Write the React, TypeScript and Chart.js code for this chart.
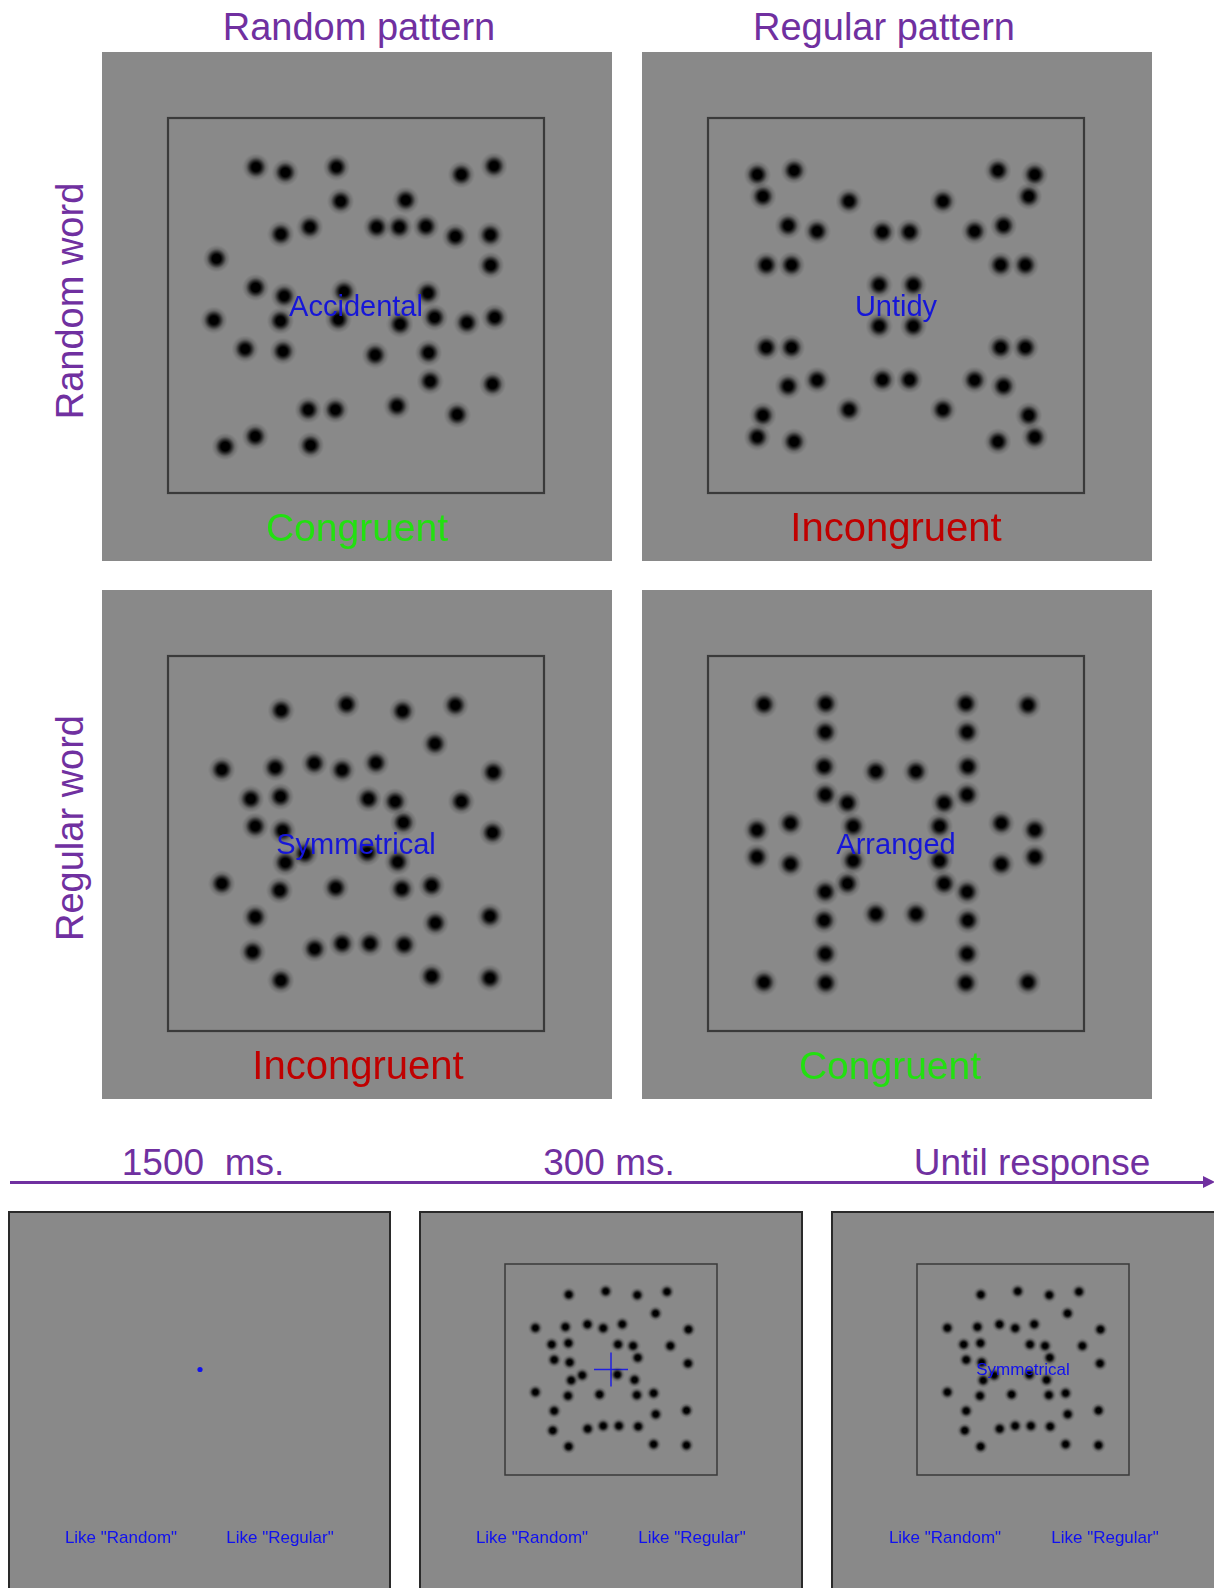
import React, { useEffect, useRef } from "react";
import { Chart, registerables } from "chart.js";

Chart.register(...registerables);

// ---- Data: dot positions, in % of the inner frame (x: left→right, y: top→bottom) ----
// Random pattern shown with the random word "Accidental"
const accidentalX = [23.4, 31.2, 44.8, 78.0, 86.7, 45.9, 63.2, 30.0, 37.7, 55.5, 61.5, 68.6, 76.4, 85.7, 12.9, 85.8, 23.3, 30.9, 46.8, 69.1, 12.2, 29.9, 45.3, 61.7, 70.9, 79.5, 86.9, 20.5, 30.6, 55.1, 69.3, 69.7, 86.3, 37.3, 44.5, 60.9, 76.9, 15.2, 23.2, 37.9];
const accidentalY = [13.1, 14.5, 13.1, 15.1, 12.8, 22.2, 21.9, 31.0, 29.1, 29.1, 29.1, 28.9, 31.6, 31.2, 37.5, 39.3, 45.2, 47.5, 46.3, 46.7, 53.9, 54.1, 53.7, 55.0, 53.2, 54.6, 53.2, 61.6, 62.2, 63.2, 62.6, 70.2, 71.0, 77.8, 77.8, 76.8, 79.1, 87.6, 84.9, 87.3];

// Regular pattern shown with the random word "Untidy"
const untidyX = [13.1, 22.9, 77.1, 86.9, 14.6, 85.3, 37.5, 62.5, 21.3, 29.0, 46.4, 53.6, 70.9, 78.6, 15.5, 22.2, 77.8, 84.4, 45.5, 54.6, 45.5, 54.6, 15.5, 22.2, 77.8, 84.4, 21.3, 29.0, 46.4, 53.6, 70.9, 78.6, 37.5, 62.5, 14.6, 85.3, 13.1, 22.9, 77.1, 86.9];
const untidyY = [15.1, 14.0, 14.0, 15.1, 20.9, 20.9, 22.2, 22.2, 28.7, 30.2, 30.4, 30.4, 30.2, 28.7, 39.2, 39.2, 39.2, 39.2, 44.5, 44.5, 55.5, 55.5, 61.2, 61.2, 61.2, 61.2, 71.5, 69.9, 69.8, 69.8, 69.9, 71.5, 77.8, 77.8, 79.3, 79.3, 85.1, 86.3, 86.3, 85.1];

// Random pattern shown with the regular word "Symmetrical" (also used in the trial sequence)
const symmetricalX = [30.1, 47.5, 62.4, 76.4, 71.0, 14.3, 28.5, 38.9, 46.3, 55.3, 86.5, 22.0, 29.9, 53.3, 60.4, 78.0, 23.2, 30.5, 62.6, 86.3, 36.4, 53.0, 31.2, 61.1, 14.3, 29.7, 44.6, 62.2, 70.1, 23.2, 71.1, 85.6, 22.5, 39.0, 46.3, 53.7, 62.8, 30.0, 70.1, 85.6];
const symmetricalY = [14.5, 12.9, 14.7, 13.1, 23.4, 30.3, 29.8, 28.6, 30.4, 28.5, 31.0, 38.1, 37.5, 38.1, 38.8, 38.8, 45.4, 46.6, 44.4, 47.1, 52.7, 52.4, 55.1, 54.9, 60.7, 62.5, 61.8, 62.1, 61.2, 69.6, 71.2, 69.4, 78.9, 78.1, 76.7, 76.7, 77.0, 86.5, 85.4, 85.9];

// Regular pattern shown with the regular word "Arranged"
const arrangedX = [14.9, 31.3, 68.6, 85.1, 31.2, 68.9, 30.9, 69.1, 44.6, 55.3, 31.2, 68.9, 37.1, 62.8, 21.9, 13.0, 38.6, 61.6, 78.0, 86.9, 13.0, 21.9, 38.6, 61.6, 78.0, 86.9, 37.1, 62.8, 31.2, 68.9, 30.9, 69.1, 44.6, 55.3, 31.2, 68.9, 14.9, 31.3, 68.6, 85.1];
const arrangedY = [12.9, 12.7, 12.7, 13.1, 20.3, 20.3, 29.5, 29.5, 30.8, 30.8, 37.0, 37.0, 39.2, 39.2, 44.6, 46.4, 45.4, 45.4, 44.6, 46.4, 53.6, 55.5, 54.6, 54.6, 55.5, 53.6, 60.7, 60.7, 62.9, 62.9, 70.5, 70.5, 68.8, 68.8, 79.4, 79.4, 87.0, 87.2, 87.2, 87.0];

const columnTitles = ["Random pattern", "Regular pattern"];
const rowTitles = ["Random word", "Regular word"];
const panelWords = ["Accidental", "Untidy", "Symmetrical", "Arranged"];
const congruence = ["Congruent", "Incongruent", "Incongruent", "Congruent"];
const timeLabels = ["1500  ms.", "300 ms.", "Until response"];
const responseLabels = ['Like "Random"', 'Like "Regular"'];

// ---- Styles ----
const GRAY = "rgb(137,137,137)";
const PURPLE = "#7030a0";
const GREEN = "#22e010";
const RED = "#c00000";
const WORD_BLUE = "#1616d8";
const SMALL_BLUE = "#1010f0";
const FONT = '"Liberation Sans", Arial, Helvetica, sans-serif';

function makeDot(size: number): HTMLCanvasElement {
  const c = document.createElement("canvas");
  c.width = size;
  c.height = size;
  const g = c.getContext("2d")!;
  const r = size / 2;
  const grad = g.createRadialGradient(r, r, 0, r, r, r);
  grad.addColorStop(0, "rgba(0,0,0,1)");
  grad.addColorStop(0.32, "rgba(0,0,0,1)");
  grad.addColorStop(0.5, "rgba(0,0,0,0.65)");
  grad.addColorStop(0.72, "rgba(0,0,0,0.2)");
  grad.addColorStop(1, "rgba(0,0,0,0)");
  g.fillStyle = grad;
  g.fillRect(0, 0, size, size);
  return c;
}

type PanelProps = {
  left: number;
  top: number;
  width: number;
  height: number;
  frame: { l: number; t: number; w: number; h: number };
  showFrame: boolean;
  frameWidth: number;
  outline: boolean;
  xs: number[];
  ys: number[];
  dotSize: number;
  fixation?: "dot" | "cross";
};

function Panel(p: PanelProps) {
  const ref = useRef<HTMLCanvasElement | null>(null);
  useEffect(() => {
    const canvas = ref.current!;
    const dot = makeDot(p.dotSize);
    const datasets: any[] = [];
    if (p.xs.length) {
      datasets.push({
        data: p.xs.map((x, i) => ({ x, y: p.ys[i] })),
        pointStyle: dot,
        pointRadius: p.dotSize / 2,
        clip: false,
      });
    }
    if (p.fixation === "dot") {
      datasets.push({
        data: [{ x: 50, y: 50 }],
        pointStyle: "circle",
        pointRadius: 2.6,
        backgroundColor: SMALL_BLUE,
        borderWidth: 0,
        clip: false,
      });
    } else if (p.fixation === "cross") {
      datasets.push({
        data: [{ x: 50, y: 50 }],
        pointStyle: "cross",
        pointRadius: 17,
        borderColor: "#2020e0",
        borderWidth: 1.5,
        clip: false,
      });
    }
    const bg = {
      id: "panelBg",
      beforeDraw(chart: any) {
        const ctx = chart.ctx;
        ctx.save();
        ctx.fillStyle = GRAY;
        ctx.fillRect(0, 0, chart.width, chart.height);
        if (p.outline) {
          ctx.strokeStyle = "#2a2a2a";
          ctx.lineWidth = 2;
          ctx.strokeRect(1, 1, chart.width - 2, chart.height - 2);
        }
        if (p.showFrame) {
          const a = chart.chartArea;
          ctx.strokeStyle = "#3a3a3a";
          ctx.lineWidth = p.frameWidth;
          ctx.strokeRect(a.left, a.top, a.right - a.left, a.bottom - a.top);
        }
        ctx.restore();
      },
    };
    const chart = new Chart(canvas, {
      type: "scatter",
      data: { datasets },
      options: {
        responsive: false,
        animation: false,
        devicePixelRatio: 1,
        events: [],
        layout: {
          padding: {
            left: p.frame.l,
            top: p.frame.t,
            right: p.width - p.frame.l - p.frame.w,
            bottom: p.height - p.frame.t - p.frame.h,
          },
        },
        scales: {
          x: { type: "linear", min: 0, max: 100, display: false },
          y: { type: "linear", min: 0, max: 100, reverse: true, display: false },
        },
        plugins: { legend: { display: false }, tooltip: { enabled: false } },
      } as any,
      plugins: [bg],
    });
    return () => chart.destroy();
  }, []);
  return (
    <canvas
      ref={ref}
      width={p.width}
      height={p.height}
      style={{ position: "absolute", left: p.left, top: p.top, width: p.width, height: p.height }}
    />
  );
}

function Label(props: {
  text: string;
  x: number;
  y: number;
  size: number;
  color: string;
  rotate?: boolean;
}) {
  return (
    <div
      style={{
        position: "absolute",
        left: props.x,
        top: props.y,
        transform: `translate(-50%, -50%)${props.rotate ? " rotate(-90deg)" : ""}`,
        fontFamily: FONT,
        fontSize: props.size,
        lineHeight: 1,
        color: props.color,
        whiteSpace: "pre",
      }}
    >
      {props.text}
    </div>
  );
}

export default function App() {
  const bigFrame = { l: 66, t: 66, w: 376, h: 375 };
  const smallFrame = { l: 86, t: 53, w: 212, h: 211 };
  const bigPanels = [
    { left: 102, top: 52, xs: accidentalX, ys: accidentalY },
    { left: 642, top: 52, xs: untidyX, ys: untidyY },
    { left: 102, top: 590, xs: symmetricalX, ys: symmetricalY },
    { left: 642, top: 590, xs: arrangedX, ys: arrangedY },
  ];
  const congruenceX = [357, 896, 358, 890];
  const congruenceColors = [GREEN, RED, RED, GREEN];
  const smallLefts = [8, 419, 831];
  const timeX = [203, 609, 1032];
  const respX = [
    [121, 280],
    [532, 692],
    [945, 1105],
  ];
  return (
    <div
      style={{
        position: "absolute",
        left: 0,
        top: 0,
        width: 1214,
        height: 1588,
        overflow: "hidden",
        background: "#ffffff",
      }}
    >
      {bigPanels.map((bp, i) => (
        <Panel
          key={"p" + i}
          left={bp.left}
          top={bp.top}
          width={510}
          height={509}
          frame={bigFrame}
          showFrame={true}
          frameWidth={2.2}
          outline={false}
          xs={bp.xs}
          ys={bp.ys}
          dotSize={27}
        />
      ))}
      {bigPanels.map((bp, i) => (
        <Label
          key={"w" + i}
          text={panelWords[i]}
          x={bp.left + bigFrame.l + bigFrame.w / 2}
          y={bp.top + bigFrame.t + bigFrame.h / 2}
          size={29}
          color={WORD_BLUE}
        />
      ))}
      {bigPanels.map((bp, i) => (
        <Label
          key={"c" + i}
          text={congruence[i]}
          x={congruenceX[i]}
          y={bp.top + 475}
          size={congruence[i] === "Congruent" ? 39 : 40}
          color={congruenceColors[i]}
        />
      ))}
      <Label text={columnTitles[0]} x={359} y={27} size={38} color={PURPLE} />
      <Label text={columnTitles[1]} x={884} y={27} size={38} color={PURPLE} />
      <Label text={rowTitles[0]} x={70} y={301} size={38} color={PURPLE} rotate />
      <Label text={rowTitles[1]} x={70} y={828} size={38} color={PURPLE} rotate />

      {timeLabels.map((t, i) => (
        <Label key={"t" + i} text={t} x={timeX[i]} y={1162} size={37} color={PURPLE} />
      ))}
      <div
        style={{
          position: "absolute",
          left: 10,
          top: 1181,
          width: 1196,
          height: 2.5,
          background: PURPLE,
        }}
      />
      <div
        style={{
          position: "absolute",
          left: 1203,
          top: 1176,
          width: 0,
          height: 0,
          borderTop: "6.5px solid transparent",
          borderBottom: "6.5px solid transparent",
          borderLeft: `12px solid ${PURPLE}`,
        }}
      />

      <Panel
        left={smallLefts[0]}
        top={1211}
        width={383}
        height={388}
        frame={smallFrame}
        showFrame={false}
        frameWidth={1.5}
        outline={true}
        xs={[]}
        ys={[]}
        dotSize={15}
        fixation="dot"
      />
      <Panel
        left={smallLefts[1]}
        top={1211}
        width={384}
        height={388}
        frame={smallFrame}
        showFrame={true}
        frameWidth={1.5}
        outline={true}
        xs={symmetricalX}
        ys={symmetricalY}
        dotSize={15}
        fixation="cross"
      />
      <Panel
        left={smallLefts[2]}
        top={1211}
        width={388}
        height={388}
        frame={smallFrame}
        showFrame={true}
        frameWidth={1.5}
        outline={true}
        xs={symmetricalX}
        ys={symmetricalY}
        dotSize={15}
      />
      <Label text={panelWords[2]} x={831 + smallFrame.l + smallFrame.w / 2} y={1369} size={17} color={SMALL_BLUE} />
      {respX.map((pair, i) =>
        pair.map((x, j) => (
          <Label key={"r" + i + j} text={responseLabels[j]} x={x} y={1537} size={17} color={SMALL_BLUE} />
        ))
      )}
    </div>
  );
}
